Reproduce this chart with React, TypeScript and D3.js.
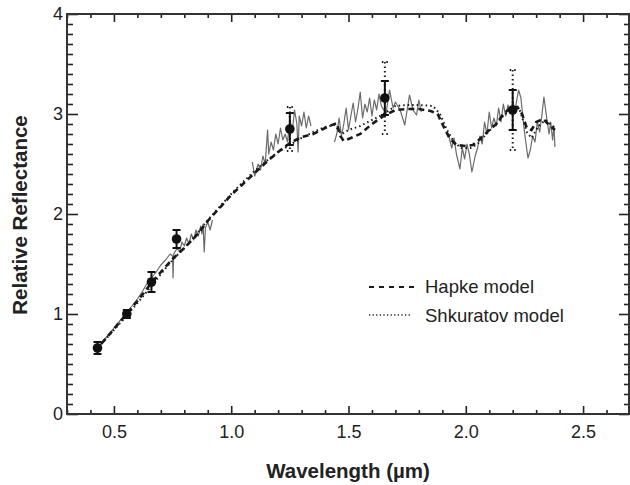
import { useRef, useEffect } from 'react'
import * as d3 from 'd3'

const xMajor = [0.5, 1.0, 1.5, 2.0, 2.5]
const yMajor = [0, 1, 2, 3, 4]

// filter-band points: wavelength, reflectance, solid error, dotted (model) error
const bandWl = [0.43, 0.555, 0.66, 0.767, 1.25, 1.655, 2.2]
const bandR = [0.66, 1.0, 1.32, 1.75, 2.85, 3.16, 3.04]
const bandErr = [0.06, 0.04, 0.1, 0.09, 0.16, 0.17, 0.2]
const bandErrWide = [0, 0, 0, 0, 0.22, 0.36, 0.4]

// measured spectrum, in pieces
const specVis: [number, number][] = [
  [0.42, 0.62], [0.45, 0.72], [0.48, 0.8], [0.51, 0.89], [0.54, 0.97], [0.57, 1.06],
  [0.6, 1.15], [0.62, 1.22], [0.64, 1.3], [0.66, 1.36], [0.68, 1.42], [0.7, 1.49],
  [0.72, 1.54], [0.74, 1.6], [0.75, 1.58], [0.752, 1.36], [0.755, 1.6], [0.77, 1.66],
  [0.78, 1.62], [0.79, 1.72], [0.8, 1.68], [0.81, 1.76], [0.82, 1.7], [0.83, 1.8],
  [0.84, 1.74], [0.85, 1.84], [0.86, 1.78], [0.87, 1.88], [0.875, 1.8], [0.88, 1.9],
  [0.885, 1.62], [0.89, 1.86], [0.9, 1.92], [0.91, 1.84], [0.92, 1.94]
]
const specNir1: [number, number][] = [
  [1.09, 2.52], [1.1, 2.38], [1.115, 2.5], [1.125, 2.44], [1.135, 2.58], [1.145, 2.5],
  [1.155, 2.84], [1.16, 2.6], [1.17, 2.72], [1.18, 2.64], [1.19, 2.8], [1.2, 2.7],
  [1.21, 2.86], [1.22, 2.74], [1.23, 2.8], [1.24, 2.72], [1.25, 2.95], [1.26, 2.82],
  [1.27, 3.04], [1.28, 2.9], [1.285, 2.62], [1.29, 2.98], [1.3, 2.88], [1.31, 3.02],
  [1.32, 2.86], [1.33, 2.98], [1.34, 2.88]
]
const specNir2: [number, number][] = [
  [1.44, 2.72], [1.45, 2.8], [1.46, 2.96], [1.47, 2.78], [1.48, 2.9], [1.49, 3.06],
  [1.5, 2.84], [1.51, 2.98], [1.52, 3.11], [1.53, 2.92], [1.54, 3.05], [1.55, 3.22],
  [1.56, 2.96], [1.57, 3.1], [1.58, 3.02], [1.59, 3.16], [1.6, 2.98], [1.61, 3.14],
  [1.62, 3.04], [1.63, 3.2], [1.64, 3.08], [1.66, 3.0], [1.675, 3.24], [1.69, 3.06],
  [1.7, 3.12], [1.72, 3.04], [1.74, 2.89], [1.76, 3.19], [1.775, 3.04], [1.79, 2.99],
  [1.8, 3.14], [1.81, 3.02]
]
const specNir3: [number, number][] = [
  [1.925, 2.81], [1.94, 2.66], [1.95, 2.76], [1.96, 2.6], [1.975, 2.45], [1.985, 2.66],
  [1.995, 2.55], [2.005, 2.7], [2.015, 2.6], [2.026, 2.42], [2.04, 2.58], [2.05, 2.66],
  [2.06, 2.78], [2.07, 2.7], [2.08, 2.92], [2.09, 2.8], [2.1, 3.02], [2.11, 2.86],
  [2.12, 2.96], [2.13, 2.88], [2.14, 3.06], [2.15, 2.92], [2.16, 3.1], [2.17, 2.98],
  [2.18, 3.09], [2.19, 3.0], [2.2, 3.12], [2.21, 3.04], [2.225, 3.24], [2.235, 3.16],
  [2.25, 2.82], [2.265, 2.56], [2.275, 2.64], [2.285, 2.78], [2.295, 2.72], [2.305, 2.92],
  [2.315, 2.82], [2.325, 3.0], [2.333, 3.17], [2.345, 2.96], [2.355, 2.8], [2.362, 2.92],
  [2.37, 2.74], [2.376, 2.88], [2.38, 2.67]
]

const hapke: [number, number][] = [
  [0.42, 0.63], [0.5, 0.85], [0.55, 0.99], [0.6, 1.13], [0.66, 1.31], [0.7, 1.42],
  [0.75, 1.55], [0.8, 1.66], [0.85, 1.78], [0.9, 1.93], [0.95, 2.06], [1.0, 2.19],
  [1.05, 2.3], [1.1, 2.41], [1.15, 2.52], [1.2, 2.62], [1.25, 2.71], [1.3, 2.77],
  [1.35, 2.8], [1.4, 2.86], [1.45, 2.91], [1.465, 2.78], [1.48, 2.73], [1.5, 2.75],
  [1.55, 2.8], [1.6, 2.9], [1.65, 2.98], [1.7, 3.04], [1.75, 3.05], [1.8, 3.05],
  [1.85, 3.03], [1.88, 3.0], [1.9, 2.9], [1.93, 2.76], [1.96, 2.69], [2.0, 2.68],
  [2.03, 2.69], [2.06, 2.75], [2.1, 2.84], [2.13, 2.9], [2.16, 3.0], [2.19, 3.06],
  [2.22, 3.07], [2.24, 3.0], [2.26, 2.86], [2.28, 2.84], [2.3, 2.92], [2.33, 2.95],
  [2.36, 2.88], [2.38, 2.84]
]
const shkuratov: [number, number][] = [
  [0.42, 0.63], [0.5, 0.84], [0.55, 0.97], [0.6, 1.11], [0.66, 1.28], [0.7, 1.4],
  [0.75, 1.54], [0.8, 1.66], [0.85, 1.79], [0.9, 1.94], [0.95, 2.07], [1.0, 2.2],
  [1.05, 2.32], [1.1, 2.43], [1.15, 2.53], [1.2, 2.62], [1.25, 2.69], [1.3, 2.76],
  [1.35, 2.82], [1.4, 2.87], [1.44, 2.89], [1.47, 2.8], [1.5, 2.84], [1.55, 2.88],
  [1.6, 2.94], [1.65, 3.0], [1.7, 3.08], [1.75, 3.09], [1.8, 3.09], [1.86, 3.08],
  [1.89, 3.0], [1.92, 2.84], [1.95, 2.72], [1.98, 2.66], [2.02, 2.66], [2.05, 2.7],
  [2.08, 2.78], [2.12, 2.88], [2.16, 2.98], [2.2, 3.07], [2.23, 3.04], [2.26, 2.82],
  [2.28, 2.76], [2.31, 2.88], [2.34, 2.94], [2.38, 2.86]
]

const ink = '#222'
const font = 'Liberation Sans, Arial, Helvetica, sans-serif'

export default function App() {
  const ref = useRef<SVGSVGElement | null>(null)

  useEffect(() => {
    if (ref.current === null) return
    const svg = d3.select(ref.current)
    svg.selectAll('*').remove()

    const x = d3.scaleLinear().domain([0.3, 2.7]).range([67, 630])
    const y = d3.scaleLinear().domain([0, 4]).range([414, 14])
    const xMinor = x.ticks(24).filter(v => !xMajor.some(m => Math.abs(m - v) < 1e-6))
    const yMinor = y.ticks(40).filter(v => !yMajor.some(m => Math.abs(m - v) < 1e-6))

    // bottom axis
    const bottom = svg.append('g').attr('transform', 'translate(0,414)')
    bottom.call(d3.axisBottom(x).tickValues(xMinor).tickSize(-4).tickFormat(() => ''))
    bottom.append('g').call(d3.axisBottom(x).tickValues(xMajor).tickSize(-8).tickPadding(11)
      .tickFormat(d => d3.format('.1f')(d as number)))
    // top axis
    const top = svg.append('g').attr('transform', 'translate(0,14)')
    top.call(d3.axisTop(x).tickValues(xMinor).tickSize(-4).tickFormat(() => ''))
    top.append('g').call(d3.axisTop(x).tickValues(xMajor).tickSize(-8).tickFormat(() => ''))
    // left axis
    const left = svg.append('g').attr('transform', 'translate(67,0)')
    left.call(d3.axisLeft(y).tickValues(yMinor).tickSize(-6).tickFormat(() => ''))
    left.append('g').call(d3.axisLeft(y).tickValues(yMajor).tickSize(-11).tickPadding(4)
      .tickFormat(d => String(d)))
    // right axis
    const right = svg.append('g').attr('transform', 'translate(629,0)')
    right.call(d3.axisRight(y).tickValues(yMinor).tickSize(-5).tickFormat(() => ''))
    right.append('g').call(d3.axisRight(y).tickValues(yMajor).tickSize(-10).tickFormat(() => ''))

    svg.selectAll('.domain').remove()
    svg.selectAll('.tick line').attr('stroke', ink).attr('stroke-width', 1.6)
    svg.selectAll('.tick text').attr('fill', ink).style('font-family', font).style('font-size', '18px')

    svg.append('rect')
      .attr('x', 67).attr('y', 14).attr('width', 562).attr('height', 400)
      .attr('fill', 'none').attr('stroke', '#333').attr('stroke-width', 2)

    const line = d3.line<[number, number]>().x(d => x(d[0])).y(d => y(d[1]))

    const plot = svg.append('g')
    for (const seg of [specVis, specNir1, specNir2, specNir3]) {
      plot.append('path').datum(seg)
        .attr('fill', 'none').attr('stroke', '#6a6a6a').attr('stroke-width', 1.2)
        .attr('stroke-linejoin', 'round').attr('d', line)
    }
    plot.append('path').datum(shkuratov)
      .attr('fill', 'none').attr('stroke', '#1a1a1a').attr('stroke-width', 2)
      .attr('stroke-dasharray', '1.5,3').attr('d', line)
    plot.append('path').datum(hapke)
      .attr('fill', 'none').attr('stroke', '#1a1a1a').attr('stroke-width', 2.6)
      .attr('stroke-dasharray', '6,4').attr('d', line)

    // dotted (wide) error bars
    bandWl.forEach((w, i) => {
      const e = bandErrWide[i]
      if (e === 0) return
      const cx = x(w)
      const g = plot.append('g').attr('stroke', '#1a1a1a').attr('stroke-width', 2)
        .attr('stroke-dasharray', '1.5,3').attr('fill', 'none')
      g.append('line').attr('x1', cx).attr('x2', cx).attr('y1', y(bandR[i] + e)).attr('y2', y(bandR[i] - e))
      for (const v of [bandR[i] + e, bandR[i] - e]) {
        g.append('line').attr('x1', cx - 3).attr('x2', cx + 3).attr('y1', y(v)).attr('y2', y(v))
          .attr('stroke-dasharray', '1.5,3')
      }
    })
    // solid error bars and points
    bandWl.forEach((w, i) => {
      const cx = x(w)
      const hi = y(bandR[i] + bandErr[i])
      const lo = y(bandR[i] - bandErr[i])
      const g = plot.append('g').attr('stroke', '#111').attr('stroke-width', 2)
      g.append('line').attr('x1', cx).attr('x2', cx).attr('y1', hi).attr('y2', lo)
      g.append('line').attr('x1', cx - 4).attr('x2', cx + 4).attr('y1', hi).attr('y2', hi)
      g.append('line').attr('x1', cx - 4).attr('x2', cx + 4).attr('y1', lo).attr('y2', lo)
      plot.append('circle').attr('cx', cx).attr('cy', y(bandR[i])).attr('r', 4.8).attr('fill', '#111')
    })

    // legend
    const legend = svg.append('g').style('font-family', font).style('font-size', '18.5px').attr('fill', ink)
    legend.append('line').attr('x1', 369).attr('x2', 418).attr('y1', 287).attr('y2', 287)
      .attr('stroke', '#1a1a1a').attr('stroke-width', 2).attr('stroke-dasharray', '5,5')
    legend.append('text').attr('x', 425).attr('y', 293).text('Hapke model')
    legend.append('line').attr('x1', 369).attr('x2', 410).attr('y1', 315).attr('y2', 315)
      .attr('stroke', '#1a1a1a').attr('stroke-width', 1.5).attr('stroke-dasharray', '1.2,2.4')
    legend.append('text').attr('x', 425).attr('y', 322).text('Shkuratov model')

    // axis titles
    svg.append('text')
      .attr('x', 348).attr('y', 478).attr('text-anchor', 'middle')
      .style('font-family', font).style('font-size', '20.5px').style('font-weight', 'bold')
      .attr('fill', ink).text('Wavelength (µm)')
    svg.append('text')
      .attr('transform', 'translate(27,215) rotate(-90)').attr('text-anchor', 'middle')
      .style('font-family', font).style('font-size', '20.5px').style('font-weight', 'bold')
      .attr('fill', ink).text('Relative Reflectance')
  }, [])

  return (
    <svg ref={ref} width={630} height={485}
      style={{ position: 'absolute', left: 0, top: 0, background: '#fff' }} />
  )
}
